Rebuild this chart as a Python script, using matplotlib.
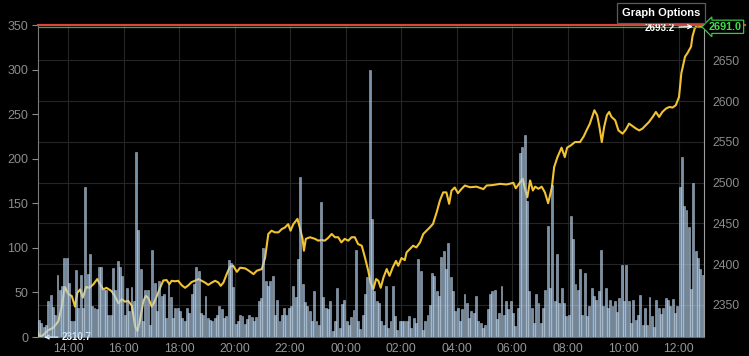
import matplotlib
matplotlib.use('Agg')
import matplotlib.pyplot as plt
import matplotlib.transforms as mtransforms
import pandas as pd

plt.rcParams['font.family'] = ['Liberation Sans', 'DejaVu Sans']

# ---------------- data ----------------
volume = [
    19, 16, 11, 14, 40, 47, 34, 25, 70, 53,
    57, 89, 89, 61, 18, 18, 75, 33, 69, 33,
    168,
    71, 93, 35, 32, 31, 79, 78, 53, 53, 25, 25, 77, 53, 85, 79, 68, 25, 55, 29, 56, 40,
    208, 120,
    76, 18, 53, 53, 14,
    98,
    61, 29, 63, 46, 48, 21, 59, 45, 21, 33, 33, 29, 21, 18, 33, 27, 48, 59, 78, 74,
    27, 25, 46, 21, 19, 18, 21, 25, 35, 31, 21, 23,
    86, 83,
    56, 15, 18, 25, 24, 15,
    20,
    25, 22, 18, 22, 40, 44, 100,
    63, 57, 63, 68, 25, 42, 18, 25, 33, 25, 33, 35, 57, 45, 87,
    179,
    60, 39, 35, 29, 18, 52, 18, 14,
    151,
    45, 33, 31, 40, 7, 18, 55, 10, 37, 42, 18, 14, 22, 30,
    98,
    18, 9, 25, 48, 67,
    300,
    132, 52, 40, 38, 18, 14, 57, 10, 18, 57, 23, 8, 18, 18, 18, 18, 23, 10, 21, 16,
    87,
    74, 8, 18, 25, 36, 72, 68, 52, 46, 90, 97, 76,
    106,
    67, 52, 29, 33, 18, 31, 48, 38, 21, 29, 27, 46,
    18,
    16, 10, 14, 31, 48, 52, 53, 20, 27, 57, 25, 40, 31, 40, 27, 12, 33,
    206, 213, 227, 153,
    52, 33, 16, 48, 38, 16, 33, 53,
    125,
    55, 170, 40, 93, 38, 55, 38, 23, 25,
    136, 110,
    59, 53, 76, 25, 72, 23, 35,
    55, 46, 42, 52,
    98,
    35, 55, 33, 41, 35, 40, 28, 44,
    81,
    40, 81, 40, 16, 42, 19, 25, 47, 14, 33, 14, 45, 23, 11, 41, 33, 26, 33, 44, 41,
    35, 43, 27, 35,
    168, 202, 147, 143, 123, 54, 173, 97, 89, 76,
    70,
]

price_times = [
    '12:55', '12:59', '13:06', '13:17', '13:28', '13:39', '13:46', '13:53', '14:01', '14:08',
    '14:15', '14:20', '14:26', '14:32', '14:39', '14:46', '14:55', '15:03', '15:09', '15:16',
    '15:23', '15:34', '15:41', '15:49', '15:56', '16:03', '16:10', '16:18', '16:25', '16:30',
    '16:35', '16:43', '16:48', '16:53', '17:01', '17:06', '17:12', '17:19', '17:26', '17:33',
    '17:39', '17:44', '17:51', '17:58', '18:06', '18:13', '18:20', '18:27', '18:34', '18:42',
    '18:49', '18:56', '19:03', '19:11', '19:18', '19:25', '19:30', '19:36', '19:43', '19:50',
    '19:57', '20:05', '20:12', '20:23', '20:30', '20:41', '20:48', '20:59', '21:06', '21:13',
    '21:20', '21:27', '21:35', '21:42', '21:49', '21:56', '22:01', '22:07', '22:16', '22:21',
    '22:27', '22:30', '22:34', '22:43', '22:54', '23:01', '23:08', '23:15', '23:22', '23:30',
    '23:37', '23:44', '23:51', '23:58', '00:06', '00:13', '00:20', '00:27', '00:35', '00:42',
    '00:49', '00:54', '01:00', '01:06', '01:11', '01:16', '01:22', '01:29', '01:35', '01:42',
    '01:49', '01:54', '02:01', '02:08', '02:12', '02:19', '02:26', '02:33', '02:41', '02:48',
    '02:55', '03:02', '03:09', '03:17', '03:24', '03:31', '03:38', '03:44', '03:49', '03:56',
    '04:03', '04:11', '04:18', '04:29', '04:43', '04:58', '05:05', '05:19', '05:34', '05:48',
    '06:03', '06:08', '06:16', '06:23', '06:28', '06:33', '06:39', '06:45', '06:50', '06:57',
    '07:04', '07:11', '07:18', '07:26', '07:31', '07:38', '07:47', '07:54', '07:59', '08:07',
    '08:16', '08:27', '08:35', '08:41', '08:48', '08:54', '08:58', '09:04', '09:09', '09:14',
    '09:19', '09:25', '09:30', '09:35', '09:43', '09:50', '09:59', '10:06', '10:13', '10:21',
    '10:28', '10:35', '10:42', '10:49', '10:56', '11:04', '11:11', '11:18', '11:25', '11:33',
    '11:40', '11:47', '11:54', '12:01', '12:06', '12:14', '12:19', '12:27', '12:30', '12:35',
    '12:40', '12:48',
]
price_values = [
    2316, 2310.7, 2313, 2319, 2322, 2330, 2347, 2372, 2363, 2361,
    2348, 2365, 2369, 2359, 2372, 2371, 2375.5, 2381.7, 2375.5, 2369,
    2371, 2367, 2361, 2352, 2357, 2354, 2355, 2349, 2324, 2318,
    2330, 2355, 2361, 2359, 2348, 2353, 2361, 2371, 2380, 2380.5,
    2375.5, 2379.6, 2379, 2379.6, 2374, 2371, 2374, 2378, 2379.6, 2381.7,
    2379.6, 2377.5, 2374.6, 2377.5, 2379.6, 2377.5, 2373.4, 2377.5, 2387.8, 2396.8,
    2398, 2390.6, 2395.6, 2394.8, 2392.3, 2387.8, 2391.9, 2394, 2408, 2437,
    2441, 2439, 2439, 2443, 2445, 2449, 2441, 2449, 2455.5, 2445,
    2431, 2416.5, 2431, 2433, 2431, 2428.8, 2429.6, 2428.8, 2432, 2437,
    2433, 2433, 2426.7, 2431, 2428.8, 2433, 2433, 2424.7, 2422.6, 2408,
    2392, 2377.5, 2369.3, 2381.7, 2379.6, 2371, 2383.7, 2394, 2385.7, 2396,
    2404, 2398, 2407.5, 2405, 2414.5, 2418.6, 2422.6, 2420.5, 2426.7, 2437,
    2441, 2445, 2449.3, 2463.6, 2478, 2488, 2488, 2474, 2490, 2494,
    2487, 2492.4, 2496.4, 2494.3, 2495, 2492, 2496.4, 2497, 2498.5, 2497.7,
    2499.7, 2493, 2499.3, 2504.7, 2492.4, 2482, 2502.6, 2490.3, 2495, 2492.4,
    2495, 2488, 2474.7, 2494, 2519, 2531, 2542.8, 2531.3, 2542.8, 2545.6,
    2549.7, 2549.7, 2556.7, 2564, 2572, 2582, 2588.7, 2582.5, 2568, 2549.7,
    2568, 2582.5, 2586.6, 2580.5, 2576.4, 2564, 2560, 2565, 2572.3, 2569,
    2566.2, 2564, 2566.2, 2570.2, 2574.3, 2580.5, 2586.6, 2580.5, 2586.6, 2590.8,
    2592.7, 2592, 2594.8, 2605, 2634, 2654.4, 2658.5, 2666.7, 2679, 2689,
    2693.2, 2691.0,
]

volume_ticks = [0, 50, 100, 150, 200, 250, 300, 350]
price_ticks = [2350, 2400, 2450, 2500, 2550, 2600, 2650]
time_tick_labels = ['14:00', '16:00', '18:00', '20:00', '22:00', '00:00',
                    '02:00', '04:00', '06:00', '08:00', '10:00', '12:00']
low_price = 2310.7
low_time = '12:59'
high_price = 2693.2
high_time = '12:40'
last_price = 2691.0

# ---------------- build time axis ----------------
day = '2013-06-01'
start = pd.Timestamp(f'{day} 12:55')
end = start + pd.Timedelta(days=1)


def to_ts(s):
    t = pd.Timestamp(f'{day} {s}')
    if t < start:
        t += pd.Timedelta(days=1)
    return t


bar_times = pd.date_range(start, periods=len(volume), freq='5min')
p_times = [to_ts(s) for s in price_times]
tick_times = [to_ts(s) for s in time_tick_labels]

# ---------------- figure ----------------
W, H = 749, 356
fig = plt.figure(figsize=(W / 100, H / 100), dpi=100, facecolor='black')
rect = [38 / W, 1 - 337 / H, (704 - 38) / W, (337 - 25) / H]
ax_p = fig.add_axes(rect)
ax_p.set_facecolor('black')
ax_v = ax_p.twinx()
ax_v.patch.set_visible(False)

# price line (below the bars)
ax_p.plot(p_times, price_values, color='#f2c230', lw=1.5, solid_joinstyle='round', zorder=3)
ax_p.set_ylim(low_price, high_price)
ax_p.set_xlim(start, end)

# volume bars (on top, translucent)
ax_v.bar(bar_times, volume, width=4.3 / 1440, align='edge',
         color='#a6c6e6', alpha=0.72, edgecolor='#d2e4f6', linewidth=0.4)
ax_v.set_ylim(0, 350)
ax_v.set_xlim(start, end)

# axes sides: volume left, price right
ax_v.yaxis.set_ticks_position('left')
ax_v.yaxis.set_label_position('left')
ax_p.yaxis.set_ticks_position('right')
ax_p.yaxis.set_label_position('right')

ax_v.set_yticks(volume_ticks)
ax_v.set_yticklabels([str(v) for v in volume_ticks])
ax_p.set_yticks(price_ticks)
ax_p.set_yticklabels([str(v) for v in price_ticks])
ax_p.set_xticks(tick_times)
ax_p.set_xticklabels(time_tick_labels)

tick_col = '#8c8c8c'
ax_v.tick_params(axis='y', colors=tick_col, labelsize=9, length=4, width=0.8, pad=3)
ax_p.tick_params(axis='y', colors=tick_col, labelsize=8.8, length=0, pad=6)
ax_p.tick_params(axis='x', colors='#969696', labelsize=8.8, length=0, pad=4)
ax_v.tick_params(axis='x', length=0, labelbottom=False)

ax_p.grid(True, color='#252525', lw=0.8)
ax_p.set_axisbelow(True)

for a in (ax_p, ax_v):
    for s in a.spines.values():
        s.set_visible(False)
ax_p.spines['left'].set_visible(True)
ax_p.spines['left'].set_color('#7a7a7a')
ax_p.spines['right'].set_visible(True)
ax_p.spines['right'].set_color('#a0a0a0')
ax_p.spines['bottom'].set_visible(True)
ax_p.spines['bottom'].set_color('#6a6a6a')

# reference lines
blend = mtransforms.blended_transform_factory(ax_p.transAxes, ax_p.transData)
ax_v.plot([0, (745 - 38) / 666], [high_price, high_price], transform=blend,
          color='#d9443b', lw=1.6, clip_on=False, zorder=5)
ax_v.plot([0, 1], [last_price - 0.6, last_price - 0.6], transform=blend,
          color='#35a843', lw=0.9, clip_on=False, zorder=6)

# annotations
ax_p.annotate(f'{low_price:.1f}', xy=(to_ts(low_time), low_price),
              xytext=(16, 0), textcoords='offset points',
              color='white', fontsize=7, fontweight='bold', ha='left', va='center',
              arrowprops=dict(arrowstyle='->', color='white', lw=0.9,
                              shrinkA=1, shrinkB=3),
              annotation_clip=False, zorder=10)
ax_v.annotate(f'{high_price:.1f}', xy=(to_ts(high_time), 350 - 1.5),
              xytext=(-16, -1), textcoords='offset points',
              color='white', fontsize=7, fontweight='bold', ha='right', va='center',
              arrowprops=dict(arrowstyle='->', color='white', lw=0.9,
                              shrinkA=1, shrinkB=3),
              annotation_clip=False, zorder=10)

ax_v.text(1.0 + 5 / 666, last_price, f'{last_price:.1f}', transform=blend,
          color='#3ee04a', fontsize=7.8, fontweight='bold', ha='left', va='center',
          clip_on=False, zorder=11,
          bbox=dict(boxstyle='larrow,pad=0.15', fc='black', ec='#35c845', lw=0.9))

fig.text(661 / W, 1 - 13 / H, 'Graph Options', color='white', fontsize=8,
         fontweight='bold', ha='center', va='center', zorder=12,
         bbox=dict(boxstyle='square,pad=0.45', fc='black', ec='#5c5c5c', lw=0.9))

fig.savefig('out.png', dpi=100, facecolor='black')
